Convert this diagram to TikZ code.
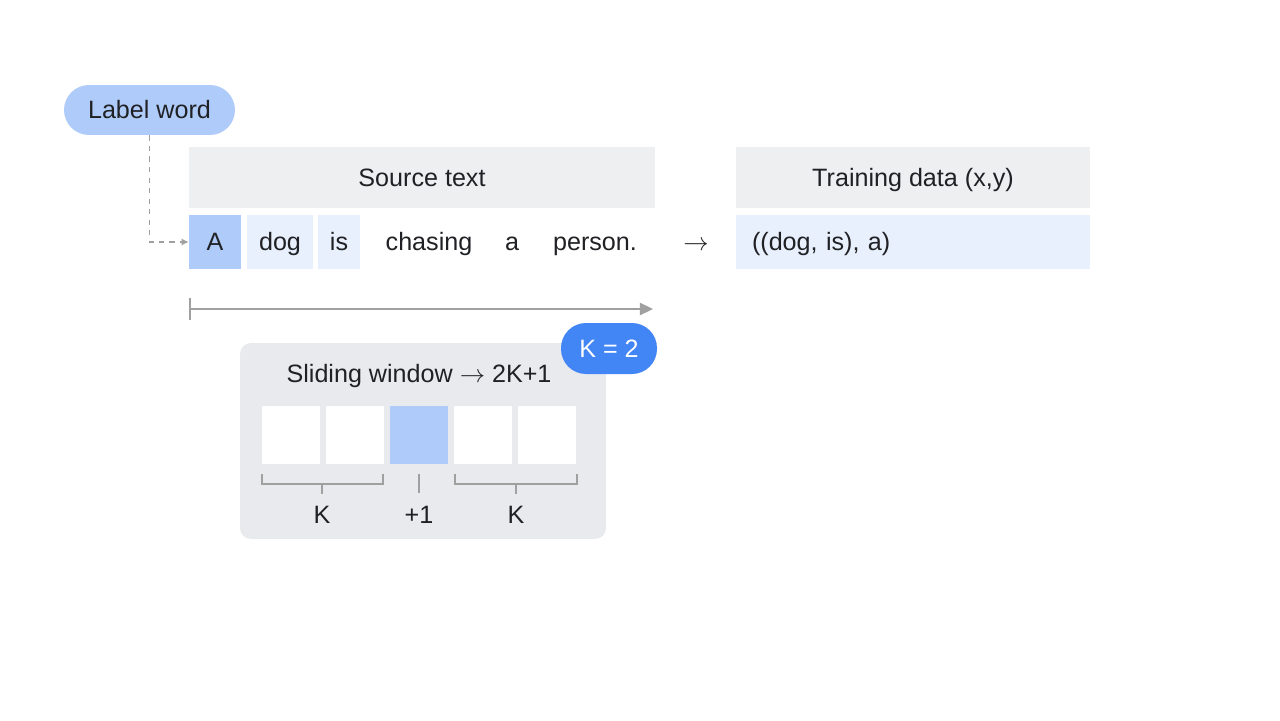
\documentclass[tikz,border=0pt]{standalone}
\usepackage{fontspec}
\setmainfont{Liberation Sans}
\usepackage{tikz}
\usetikzlibrary{arrows.meta}

\definecolor{ink}{RGB}{32,33,36}
\definecolor{lblue}{RGB}{174,203,250}
\definecolor{pblue}{RGB}{232,240,254}
\definecolor{hdrgray}{RGB}{238,239,241}
\definecolor{wingray}{RGB}{232,234,237}
\definecolor{kblue}{RGB}{66,133,244}
\definecolor{linegray}{RGB}{160,160,160}

\tikzset{
  every node/.style={font=\fontsize{14.3}{17}\selectfont, text=ink},
  box/.style={rectangle, inner sep=0pt, text height=10.2pt, text depth=0pt},
  hdr/.style={box, fill=hdrgray, minimum height=1.22cm},
  word/.style={box, minimum height=1.08cm},
  pill/.style={box, rounded corners=0.5cm, minimum height=1.0cm},
  cell/.style={rectangle, inner sep=0pt, minimum width=1.16cm, minimum height=1.16cm},
  brk/.style={draw=linegray, line width=0.8pt}
}

\begin{document}
\begin{tikzpicture}[x=0.02cm, y=-0.02cm]
  \useasboundingbox[fill=white] (0,0) rectangle (1280,720);

  % Label word
  \node[pill, fill=lblue, minimum width=3.42cm] (lbl) at (149.5,110) {Label word};

  % Source text
  \node[hdr, minimum width=9.32cm] (src) at (422,177.5) {Source text};
  \node[word, fill=lblue, minimum width=1.04cm] (w1) at (215,242) {A};
  \node[word, fill=pblue, minimum width=1.32cm] (w2) at (280,242) {dog};
  \node[word, fill=pblue, minimum width=0.84cm] (w3) at (339,242) {is};
  \node[word] (w4) at (429,242) {chasing};
  \node[word] (w5) at (512,242) {a};
  \node[word] (w6) at (595,242) {person.};
  \node[word] (to) at (696,242) {$\rightarrow$};

  % Training data
  \node[hdr, minimum width=7.08cm] (trn) at (913,177.5) {Training data (x,y)};
  \node[word, fill=pblue, text width=6.44cm, inner xsep=0.32cm, align=left] (pair) at (913,242) {((dog, is), a)};

  % Label word to A
  \draw[linegray, dashed, line width=0.6pt, -{Latex[length=4pt, width=4pt]}] (lbl.south) |- (w1.west);

  % Timeline
  \coordinate (t0) at (189,309);
  \coordinate (t1) at (653,309);
  \draw[linegray, line width=1pt, {Bar[width=13pt]}-{Triangle[length=7.5pt, width=7pt]}] (t0) -- (t1);

  % Sliding window
  \node[rectangle, rounded corners=0.22cm, fill=wingray, minimum width=7.32cm, minimum height=3.92cm] (win) at (423,441) {};
  \node[box] (wtitle) at (419,374) {Sliding window $\rightarrow$ 2K+1};
  \node[cell, fill=white] (s1) at (291,435) {};
  \node[cell, fill=white] (s2) at (355,435) {};
  \node[cell, fill=lblue] (s3) at (419,435) {};
  \node[cell, fill=white] (s4) at (483,435) {};
  \node[cell, fill=white] (s5) at (547,435) {};

  % Brackets
  \draw[brk] (262,474) -- (262,484) -- (383,484) -- (383,474);
  \draw[brk] (322,484) -- (322,494);
  \draw[brk] (419,474) -- (419,493);
  \draw[brk] (455,474) -- (455,484) -- (577,484) -- (577,474);
  \draw[brk] (516,484) -- (516,494);
  \node[box] (kl) at (322,515) {K};
  \node[box] (one) at (419,515) {+1};
  \node[box] (kr) at (516,515) {K};

  % K = 2
  \node[pill, fill=kblue, text=white, minimum width=1.92cm, minimum height=1.02cm] (kval) at (609,348.5) {K = 2};
\end{tikzpicture}
\end{document}
